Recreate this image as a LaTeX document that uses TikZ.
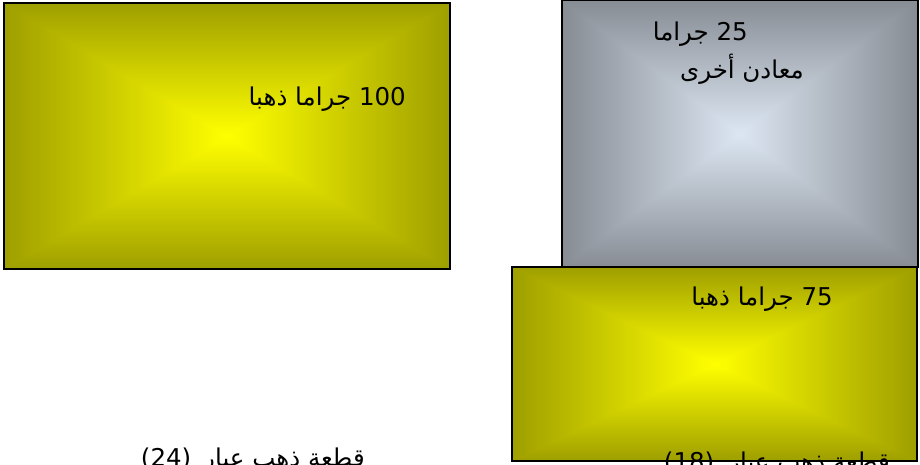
\documentclass[tikz,border=0pt]{standalone}
\usepackage{fontspec}
\TeXXeTstate=1
\newfontfamily\arabicfont[Script=Arabic]{DejaVu Sans}
\pgfdeclarefunctionalshading{goldshade}{\pgfpointorigin}{\pgfpoint{100bp}{100bp}}{}{
 50 sub abs 25 div exch 50 sub abs 25 div 2 copy lt {exch} if pop
 dup 1 gt {pop 1} if
 dup -0.38 mul 1 add exch -0.38 mul 1 add 0
}
\pgfdeclarefunctionalshading{greyshade}{\pgfpointorigin}{\pgfpoint{100bp}{100bp}}{}{
 50 sub abs 25 div exch 50 sub abs 25 div 2 copy lt {exch} if pop
 dup 1 gt {pop 1} if
 dup dup -0.333 mul 0.863 add exch -0.352 mul 0.902 add 3 2 roll -0.369 mul 0.949 add
}
\tikzset{
  panel/.style={draw=black, line width=1.5pt, shade, anchor=north west, inner sep=0pt, outer sep=0pt},
  goldbox/.style={panel, shading=goldshade},
  greybox/.style={panel, shading=greyshade},
  lbl/.style={font=\arabicfont\fontsize{24.5}{29}\selectfont, anchor=base east, inner sep=0pt, text=black}
}
\begin{document}
\begin{tikzpicture}[x=1pt,y=-1pt]
\fill[white] (0,0) rectangle (920,465);
\useasboundingbox (0,0) rectangle (920,465);
\node[goldbox, minimum width=446pt, minimum height=266pt] (pure) at (4,3) {};
\node[greybox, minimum width=356pt, minimum height=267pt] (other) at (562,0) {};
\node[goldbox, minimum width=405pt, minimum height=194pt] (gold75) at (512,267) {};
\node[lbl] (t100) at (406,106) {\beginR\beginL 100\endL{} جراما ذهبا\endR};
\node[lbl] (t25) at (748,41) {\beginR\beginL 25\endL{} جراما\endR};
\node[lbl] (tother) at (804,79) {\beginR معادن أخرى\endR};
\node[lbl] (t75) at (833,305) {\beginR\beginL 75\endL{} جراما ذهبا\endR};
\node[lbl] (k24) at (365,466) {\beginR قطعة ذهب عيار\hspace{12pt}\beginL(24)\endL\endR};
\node[lbl] (k18) at (890,470) {\beginR قطعة ذهب عيار\hspace{14pt}\beginL(18)\endL\endR};
\end{tikzpicture}
\end{document}
